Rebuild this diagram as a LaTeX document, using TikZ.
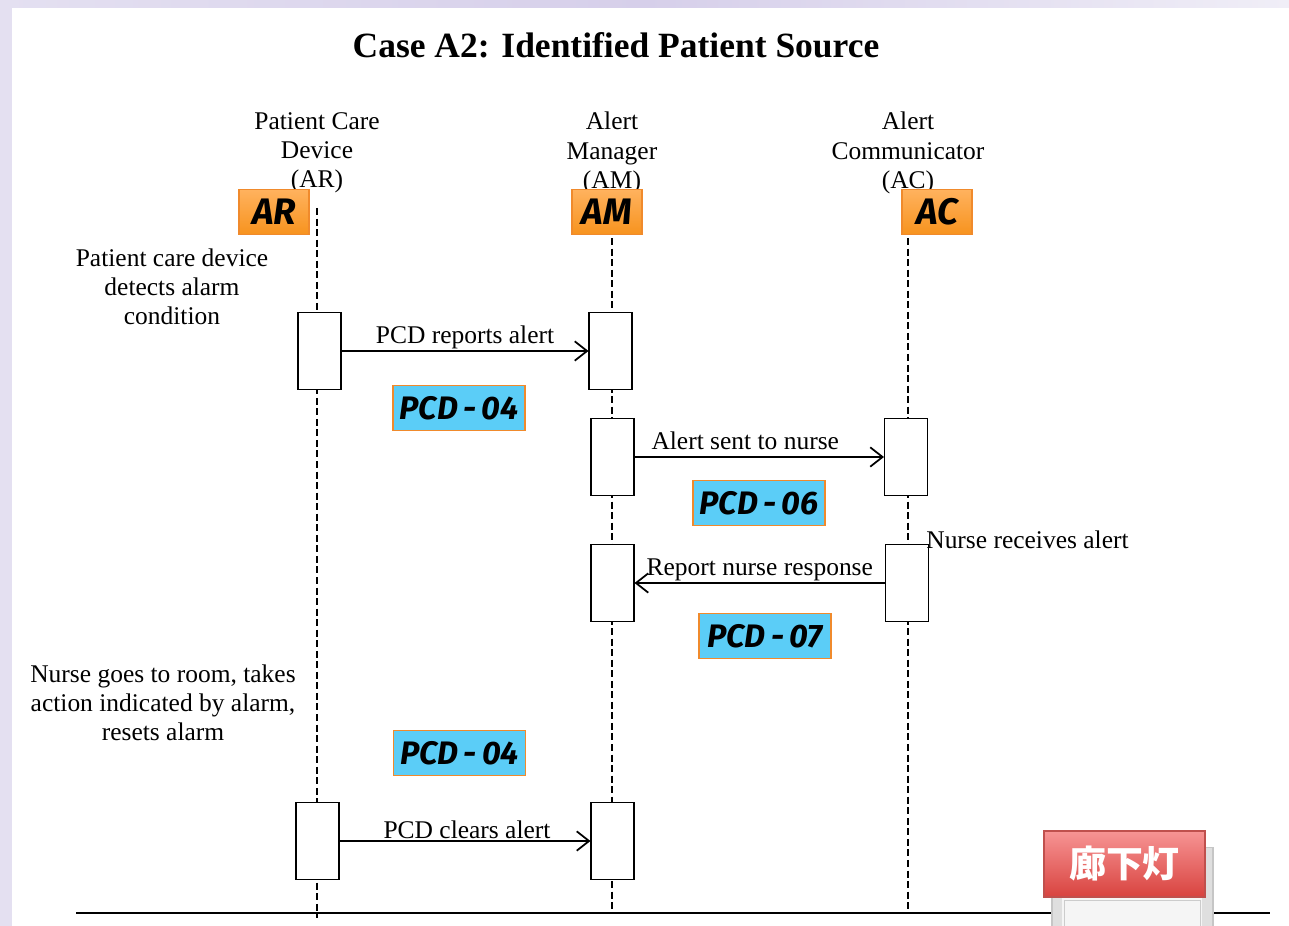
\documentclass[tikz,border=0pt]{standalone}
\usepackage{fontspec}
\setmainfont{Liberation Serif}
\newfontfamily\badgefont{Fira Sans}
\newfontfamily\cjkfont{Noto Sans CJK JP}
\usepackage{tikz}
\usetikzlibrary{positioning,arrows.meta}

\definecolor{bgband}{HTML}{E4E0F1}
\definecolor{bgbandmid}{HTML}{D6CFEA}
\definecolor{bgbandlight}{HTML}{F0EEF7}
\definecolor{badgeorange}{HTML}{F7931E}
\definecolor{badgeorangetop}{HTML}{FFB25E}
\definecolor{badgeline}{HTML}{F08A2C}
\definecolor{badgeblue}{HTML}{5BCDF7}
\definecolor{lampred}{HTML}{D8433F}
\definecolor{lampredtop}{HTML}{F79494}
\definecolor{lampline}{HTML}{C0504D}

\begin{document}
\begin{tikzpicture}[
  x=0.02cm, y=-0.02cm,
  txt/.style={align=center, inner sep=0pt, font=\fontsize{14.5}{16.6}\selectfont},
  act/.style={rectangle, draw, fill=white, line width=0.6pt,
    minimum width=0.86cm, minimum height=1.54cm, inner sep=0pt},
  life/.style={line width=0.6pt, dash pattern=on 4pt off 2pt},
  msg/.style={-{Straight Barb[length=7pt, width=11pt, line width=1pt]}, line width=1.1pt},
  lbl/.style={above, inner sep=0.8pt, font=\fontsize{14.5}{16.6}\selectfont},
  role/.style={rectangle, draw=badgeline, line width=0.8pt,
    top color=badgeorangetop, bottom color=badgeorange,
    minimum width=1.4cm, minimum height=0.9cm, inner sep=0pt,
    font=\badgefont\bfseries\itshape\fontsize{21}{21}\selectfont},
  pcd/.style={rectangle, draw=badgeline, line width=0.8pt, fill=badgeblue,
    minimum width=2.64cm, minimum height=0.9cm, inner sep=0pt,
    font=\badgefont\bfseries\itshape\fontsize{18.5}{18.5}\selectfont}
]
\useasboundingbox (0,0) rectangle (1289,926);
% page background
\shade[left color=bgband, right color=bgbandlight, middle color=bgbandmid] (0,0) rectangle (1289,926);
\fill[white] (12,8) rectangle (1289,926);

\node[font=\bfseries\fontsize{20.2}{22}\selectfont] (title) at (616,45) {Case A2: Identified Patient Source};

% lifeline heads
\node[txt] (arHead) at (317,153) {Patient Care\\Device\\(AR)};
\node[txt] (amHead) at (612,153) {Alert\\Manager\\(AM)};
\node[txt] (acHead) at (908,153) {Alert\\Communicator\\(AC)};

\coordinate (arTop) at (317,208);
\coordinate (amTop) at (612,238);
\coordinate (acTop) at (908,238);
\coordinate (arEnd) at (317,918);
\coordinate (amEnd) at (612,913);
\coordinate (acEnd) at (908,913);
\draw[life] (arTop) -- (arEnd);
\draw[life] (amTop) -- (amEnd);
\draw[life] (acTop) -- (acEnd);

% baseline
\coordinate (baseL) at (76,913);
\coordinate (baseR) at (1270,913);
\draw[line width=1.1pt] (baseL) -- (baseR);

% activations
\node[act] (ar1) at (319.5,351) {};
\node[act] (am1) at (610.5,351) {};
\node[act] (am2) at (612.5,457) {};
\node[act] (ac1) at (906,457) {};
\node[act] (am3) at (612.5,583) {};
\node[act] (ac2) at (907,583) {};
\node[act] (ar2) at (317.5,841) {};
\node[act] (am4) at (612.5,841) {};

% messages
\draw[msg] (ar1.east) -- node[lbl] {PCD reports alert} (am1.west);
\draw[msg] (am2.east) -- node[lbl, xshift=-0.28cm, yshift=0.1cm] {Alert sent to nurse} (ac1.west);
\draw[msg] (ac2.west) -- node[lbl] {Report nurse response} (am3.east);
\draw[msg] (ar2.east) -- node[lbl, xshift=0.04cm] {PCD clears alert} (am4.west);

% notes
\node[txt] (detect) at (172,287) {Patient care device\\detects alarm\\condition};
\node[txt, anchor=west] (receive) at (926,540) {Nurse receives alert};
\node[txt] (goes) at (163,703) {Nurse goes to room, takes\\action indicated by alarm,\\resets alarm};

% badges
\node[role] (arTag) at (274,212) {AR};
\node[role] (amTag) at (607,212) {AM};
\node[role] (acTag) at (937,212) {AC};
\node[pcd] (pcdA) at (459,408) {PCD\,-\,04};
\node[pcd] (pcdB) at (759,503) {PCD\,-\,06};
\node[pcd] (pcdC) at (765,636) {PCD\,-\,07};
\node[pcd] (pcdD) at (459.5,753) {PCD\,-\,04};

% hallway lamp
\fill[gray!8] (1052,848) rectangle (1213,926);
\draw[gray!45, line width=0.8pt] (1052,926) -- (1052,848) -- (1213,848) -- (1213,926);
\fill[gray!25] (1053,848) rectangle (1062,926);
\fill[gray!25] (1202,848) rectangle (1212,926);
\draw[gray!40] (1064,900) rectangle (1200,926);
\node[rectangle, draw=lampline, line width=0.8pt,
  top color=lampredtop, bottom color=lampred,
  minimum width=3.22cm, minimum height=1.32cm, inner sep=0pt,
  text=white, font=\cjkfont\bfseries\fontsize{21}{21}\selectfont] (lamp) at (1124.5,864) {廊下灯};
\end{tikzpicture}
\end{document}
